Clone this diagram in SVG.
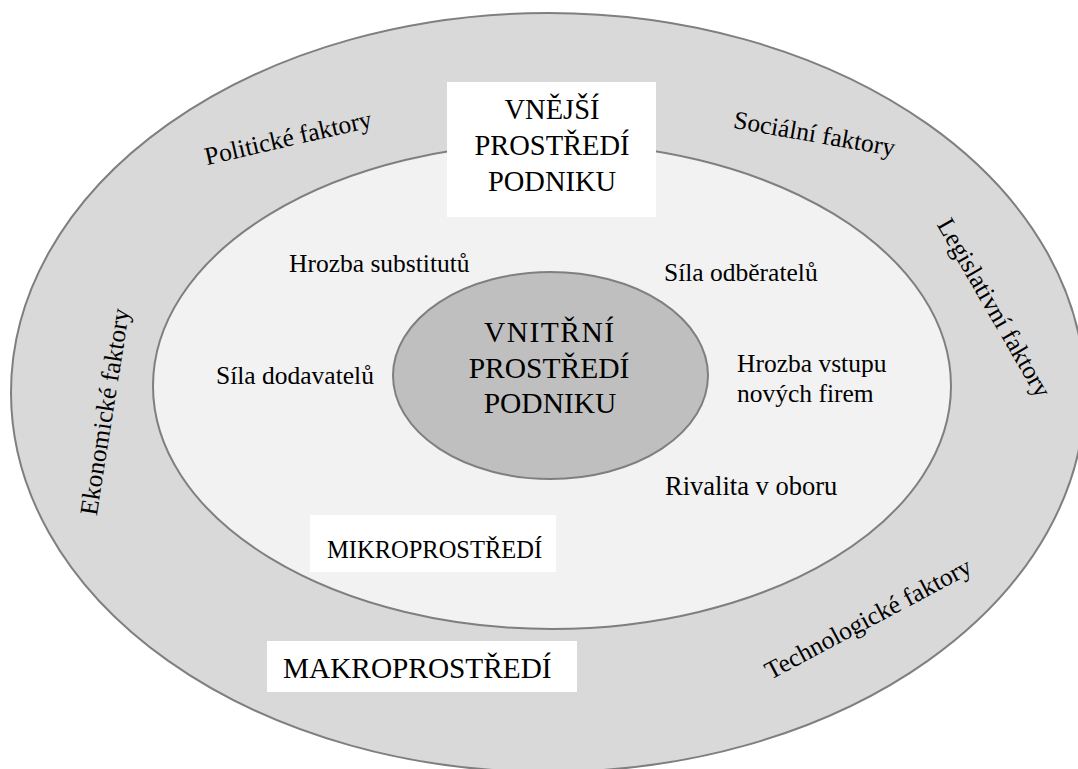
<svg xmlns="http://www.w3.org/2000/svg" width="1078" height="769" viewBox="0 0 1078 769">
<style>
.ring{stroke:#7f7f7f;stroke-width:2}
.t{font-family:"Liberation Serif","Times New Roman",serif;fill:#000}
.s{font-size:25.5px}
.b{font-size:29.5px}
.box{fill:#ffffff}
</style>
<rect width="1078" height="769" fill="#ffffff"/>
<g id="makro">
<ellipse class="ring" cx="548" cy="392.5" rx="537" ry="379.5" fill="#d9d9d9"/>
</g>
<g id="mikro">
<ellipse class="ring" cx="552" cy="386" rx="399" ry="243" fill="#f2f2f2"/>
</g>
<g id="vnitrni">
<ellipse class="ring" cx="550.5" cy="375.5" rx="157.5" ry="103.5" fill="#bfbfbf"/>
<text class="t b" text-anchor="middle" x="549" y="342" textLength="130" lengthAdjust="spacing">VNITŘNÍ</text>
<text class="t b" text-anchor="middle" x="549" y="378">PROSTŘEDÍ</text>
<text class="t b" text-anchor="middle" x="550" y="413">PODNIKU</text>
</g>
<g id="vnejsi">
<rect class="box" x="447" y="82" width="209" height="135"/>
<text class="t" font-size="28.5" text-anchor="middle" x="552" y="119">VNĚJŠÍ</text>
<text class="t" font-size="28.5" text-anchor="middle" x="552" y="155">PROSTŘEDÍ</text>
<text class="t" font-size="28.5" text-anchor="middle" x="552" y="191">PODNIKU</text>
</g>
<g id="label-mikro">
<rect class="box" x="310" y="515" width="246" height="57"/>
<text class="t" font-size="24.5" x="327" y="558">MIKROPROSTŘEDÍ</text>
</g>
<g id="label-makro">
<rect class="box" x="267" y="641" width="310" height="51"/>
<text class="t" font-size="29.3" x="283" y="678">MAKROPROSTŘEDÍ</text>
</g>
<g id="porter">
<text class="t s" x="289" y="272">Hrozba substitutů</text>
<text class="t s" x="664" y="281">Síla odběratelů</text>
<text class="t s" x="216" y="384">Síla dodavatelů</text>
<text class="t s" x="737" y="372">Hrozba vstupu</text>
<text class="t s" x="737" y="402">nových firem</text>
<text class="t" font-size="26.5" x="665" y="495">Rivalita v oboru</text>
</g>
<g id="pest">
<text class="t s" text-anchor="middle" transform="translate(290,146) rotate(-13)">Politické faktory</text>
<text class="t s" text-anchor="middle" transform="translate(813,142) rotate(10)">Sociální faktory</text>
<text class="t s" text-anchor="middle" transform="translate(113,413) rotate(-81)">Ekonomické faktory</text>
<text class="t s" text-anchor="middle" transform="translate(987,312) rotate(60)">Legislativní faktory</text>
<text class="t s" text-anchor="middle" transform="translate(872,626) rotate(-28)">Technologické faktory</text>
</g>
<g id="connectors"></g>
</svg>
